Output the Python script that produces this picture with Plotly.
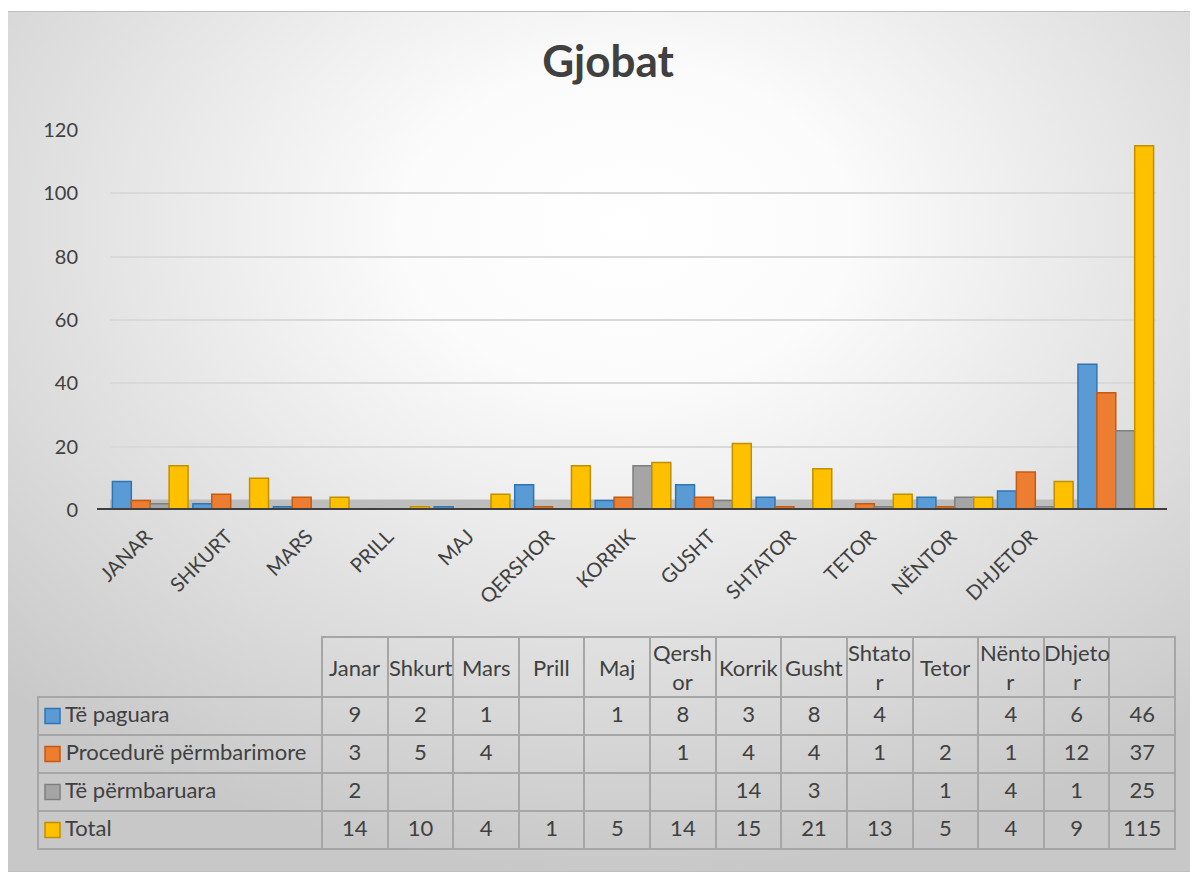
import base64
import plotly.graph_objects as go

# ---------------- data ----------------
categories = ["Janar", "Shkurt", "Mars", "Prill", "Maj", "Qershor", "Korrik",
              "Gusht", "Shtator", "Tetor", "Nëntor", "Dhjetor", "Gjithsej"]
axis_labels = ["JANAR", "SHKURT", "MARS", "PRILL", "MAJ", "QERSHOR", "KORRIK",
               "GUSHT", "SHTATOR", "TETOR", "NËNTOR", "DHJETOR", ""]
table_headers = ["Janar", "Shkurt", "Mars", "Prill", "Maj", "Qersh<br>or", "Korrik",
                 "Gusht", "Shtato<br>r", "Tetor", "Nënto<br>r", "Dhjeto<br>r", ""]
series_names = ["Të paguara", "Procedurë përmbarimore", "Të përmbaruara", "Total"]
te_paguara = [9, 2, 1, None, 1, 8, 3, 8, 4, None, 4, 6, 46]
procedure_permbarimore = [3, 5, 4, None, None, 1, 4, 4, 1, 2, 1, 12, 37]
te_permbaruara = [2, None, None, None, None, None, 14, 3, None, 1, 4, 1, 25]
total = [14, 10, 4, 1, 5, 14, 15, 21, 13, 5, 4, 9, 115]
y_ticks = [0, 20, 40, 60, 80, 100, 120]

series_values = [te_paguara, procedure_permbarimore, te_permbaruara, total]

# ---------------- style ----------------
W, H = 1190, 864          # page body margin of 8px puts this at (8,8)
OFF = 8
FONT = "Lato"
TXT = "#404040"
fills = ["#5B9BD5", "#ED7D31", "#A5A5A5", "#FFC000"]
edges = ["#2E75B6", "#C55A11", "#7F7F7F", "#BF9000"]


def px(x):
    return (x - OFF) / W


def py(y):
    return 1 - (y - OFF) / H


fig = go.Figure()

for name, vals, fc, lc in zip(series_names, series_values, fills, edges):
    fig.add_trace(go.Bar(
        x=categories, y=vals, name=name,
        marker=dict(color=fc, line=dict(color=lc, width=1.5)),
        xaxis="x", yaxis="y",
    ))

# ---------------- data table ----------------
def fmt(v):
    return "" if v is None else str(v)

nb = "\u00a0"
first_col = ["\u2009" + nb * 3 + s for s in series_names]
cols = [first_col] + [[fmt(s[j]) for s in series_values] for j in range(len(categories))]
gray = "#A6A6A6"
TFS = 22
T_LEFT, T_RIGHT, FIRST_W = 38, 1175, 284
col_w = (T_RIGHT - T_LEFT - FIRST_W) / len(categories)
HEAD_TOP, HEAD_H, ROW_H = 637, 60, 38

fig.add_trace(go.Table(
    domain=dict(x=[px(T_LEFT), px(T_RIGHT)], y=[py(858), py(HEAD_TOP)]),
    columnwidth=[FIRST_W] + [col_w] * len(categories),
    header=dict(
        values=[""] * (len(categories) + 1),
        height=HEAD_H,
        fill=dict(color="rgba(0,0,0,0)"),
        line=dict(color=["rgba(0,0,0,0)"] + [gray] * len(categories), width=2),
        font=dict(family=FONT, size=TFS, color=TXT),
    ),
    cells=dict(
        values=cols,
        height=ROW_H,
        fill=dict(color="rgba(0,0,0,0)"),
        line=dict(color=gray, width=2),
        font=dict(family=FONT, size=TFS, color=TXT),
        align=["left"] + ["center"] * len(categories),
    ),
))

# header labels, vertically centred in the header cells
annotations = []
for j, lab in enumerate(table_headers):
    cx = T_LEFT + FIRST_W + col_w * (j + 0.5)
    annotations.append(dict(
        text=lab, x=px(cx), y=py(HEAD_TOP + HEAD_H / 2), xref="paper", yref="paper",
        xanchor="center", yanchor="middle", showarrow=False, align="center",
        font=dict(family=FONT, size=TFS, color=TXT)))

# ---------------- background gradient (chart area) ----------------
svg = ('<svg xmlns="http://www.w3.org/2000/svg" width="1191" height="861" '
       'viewBox="0 0 1191 861" preserveAspectRatio="none">'
       '<defs><radialGradient id="g" cx="0.52" cy="0.25" r="0.75">'
       '<stop offset="0" stop-color="#ffffff"/>'
       '<stop offset="0.25" stop-color="#fbfbfb"/>'
       '<stop offset="1" stop-color="#c8c8c8"/>'
       '</radialGradient></defs>'
       '<rect x="0.5" y="0.5" width="1190" height="860" fill="url(#g)" '
       'stroke="#bfbfbf" stroke-width="1"/></svg>')
src = "data:image/svg+xml;base64," + base64.b64encode(svg.encode()).decode()

shapes = []
# floor band and floor edge
shapes.append(dict(type="rect", xref="paper", yref="y", x0=px(110), x1=px(1152),
                   y0=0, y1=3.3, fillcolor="#BDBDBD", line=dict(width=0),
                   layer="below"))
shapes.append(dict(type="line", xref="paper", yref="y", x0=px(97), x1=px(1167),
                   y0=0, y1=0, line=dict(color="#404040", width=4),
                   layer="above"))
# legend keys in table
row_centers = [HEAD_TOP + HEAD_H + ROW_H * (i + 0.5) for i in range(4)]
for cy, fc, lc in zip(row_centers, fills, edges):
    shapes.append(dict(type="rect", xref="paper", yref="paper",
                       x0=px(45), x1=px(60), y0=py(cy + 7.5), y1=py(cy - 7.5),
                       fillcolor=fc, line=dict(color=lc, width=1.5)))

fig.update_layout(
    width=W, height=H,
    autosize=False,
    margin=dict(l=0, r=0, t=0, b=0, pad=0, autoexpand=False),
    paper_bgcolor="white",
    plot_bgcolor="rgba(0,0,0,0)",
    showlegend=False,
    barmode="group",
    bargap=0.06,
    bargroupgap=0.0,
    font=dict(family=FONT, color=TXT),
    title=dict(text="<b>Gjobat</b>", x=px(608), xanchor="center",
               y=py(62), yanchor="middle",
               font=dict(family=FONT, size=44, color=TXT)),
    xaxis=dict(domain=[px(110), px(1156)], tickmode="array",
               tickvals=categories, ticktext=axis_labels, tickangle=-45,
               tickfont=dict(family=FONT, size=20, color=TXT),
               showline=False, showgrid=False, zeroline=False, ticks="",
               ticklabelstandoff=10, ticklabelshift=-4,
               anchor="y", automargin=False),
    yaxis=dict(domain=[py(510), py(130)], range=[0, 120], tickvals=y_ticks,
               tickfont=dict(family=FONT, size=20, color=TXT),
               showgrid=True, gridcolor="#D9D9D9", gridwidth=2,
               zeroline=False, showline=False, ticks="",
               ticklabelstandoff=31, anchor="x", automargin=False),
    images=[dict(source=src, xref="paper", yref="paper", x=px(7), y=py(11),
                 sizex=1 - px(7), sizey=1 - (11 - OFF) / H,
                 sizing="stretch", xanchor="left", yanchor="top",
                 layer="below")],
    shapes=shapes,
    annotations=annotations,
)

fig.write_html("out.html")
